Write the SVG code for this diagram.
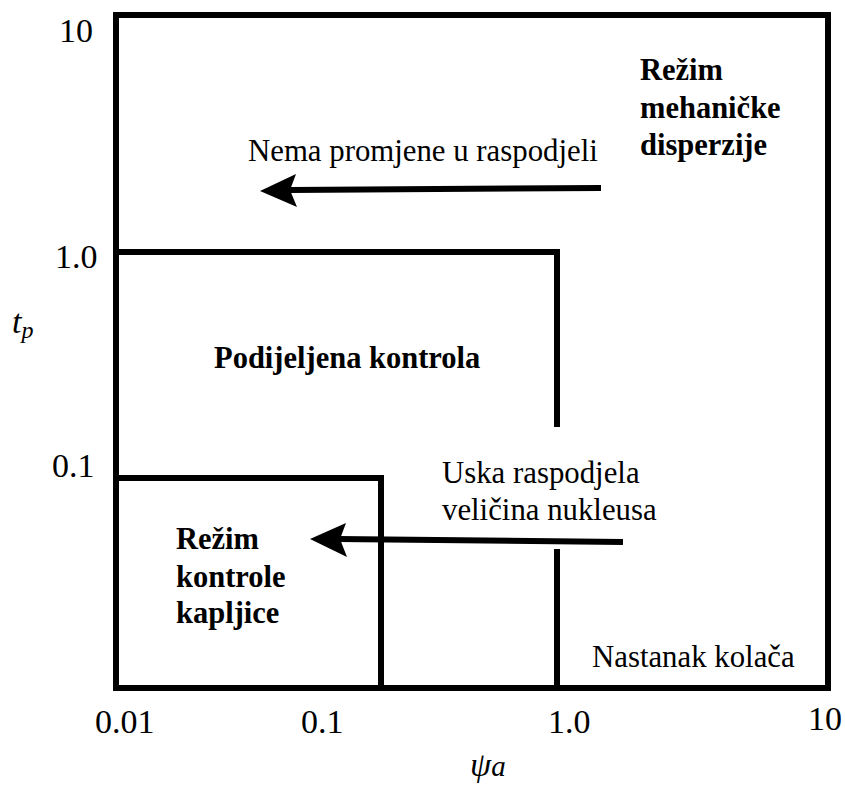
<svg xmlns="http://www.w3.org/2000/svg" width="845" height="789" viewBox="0 0 845 789">
<style>
.ln{fill:none;stroke:#000;stroke-width:6;stroke-linecap:butt;stroke-linejoin:miter}
.t{font-family:"Liberation Serif","Times New Roman",serif;font-size:30.8px;fill:#000}
.b{font-weight:bold;font-size:30.5px}
.ax{font-family:"Liberation Serif","Times New Roman",serif;font-size:34px;fill:#000}
.it{font-style:italic}
.sh{stroke:#000;stroke-width:6;fill:none}
.hd{fill:#000}
</style>
<rect width="845" height="789" fill="#fff"/>
<g id="axes">
<rect class="ln" x="116" y="15" width="712" height="673"/>
<text class="ax" x="59" y="42">10</text>
<text class="ax" x="55" y="268">1.0</text>
<text class="ax" x="52" y="477">0.1</text>
<text class="ax" x="95" y="733">0.01</text>
<text class="ax" x="301" y="733">0.1</text>
<text class="ax" x="548" y="733">1.0</text>
<text class="ax" x="808" y="730">10</text>
<text class="ax it" x="12" y="333">t<tspan font-size="24" dy="5">p</tspan></text>
<text class="ax it" x="470" y="776">ψ<tspan font-size="29">a</tspan></text>
</g>
<g id="mechanical-dispersion">
<text class="t b" x="640" y="80">Režim</text>
<text class="t b" x="640" y="118">mehaničke</text>
<text class="t b" x="640" y="155">disperzije</text>
<text class="t" x="248" y="161">Nema promjene u raspodjeli</text>
</g>
<g id="shared-control">
<polyline class="ln" points="116,252 557,252 557,427"/>
<text class="t b" x="214" y="368">Podijeljena kontrola</text>
</g>
<g id="drop-control">
<polyline class="ln" points="116,478 381,478 381,688"/>
<text class="t b" x="176" y="549">Režim</text>
<text class="t b" x="176" y="587">kontrole</text>
<text class="t b" x="176" y="623">kapljice</text>
</g>
<g id="cake-formation">
<line class="ln" x1="557" y1="549" x2="557" y2="688"/>
<text class="t" x="592" y="667">Nastanak kolača</text>
<text class="t" x="442" y="483">Uska raspodjela</text>
<text class="t" x="442" y="520">veličina nukleusa</text>
</g>
<g id="connectors">
<line class="sh" x1="290" y1="190" x2="601" y2="188"/>
<polygon class="hd" points="260,191 296,174 290,190 297,207"/>
<line class="sh" x1="338" y1="539" x2="623" y2="542"/>
<polygon class="hd" points="310,539 346,523 340,539 347,557"/>
</g>
</svg>
